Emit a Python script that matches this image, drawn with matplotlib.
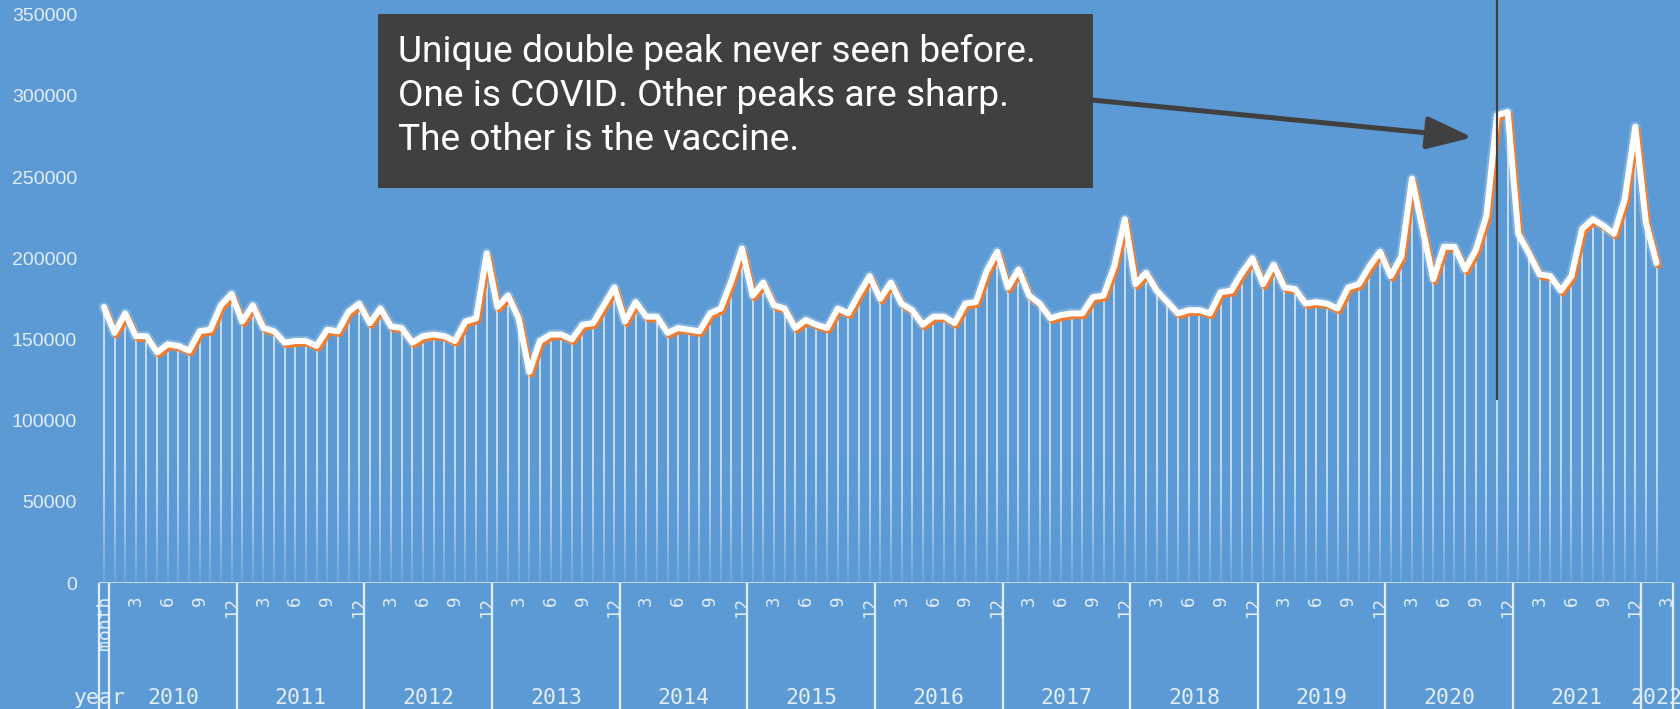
import numpy as np
import matplotlib
matplotlib.use("Agg")
import matplotlib.pyplot as plt
import matplotlib.patheffects as pe
import matplotlib.transforms as mtransforms
from matplotlib.patches import Rectangle

# monthly values, first one sits in the "month" header slot, then Jan 2010 .. Feb 2022
values = [
    170000, 154000, 166000, 152000, 152000, 142000, 147000, 146000, 143000, 155000, 156000, 171000,
    178000, 161000, 171000, 157000, 155000, 148000, 149000, 149000, 146000, 156000, 155000, 167000,
    172000, 160000, 169000, 158000, 157000, 148000, 152000, 153000, 152000, 149000, 161000, 163000,
    203000, 170000, 177000, 163000, 130000, 149000, 153000, 153000, 150000, 159000, 160000, 171000,
    182000, 161000, 173000, 164000, 164000, 154000, 157000, 156000, 155000, 166000, 169000, 186000,
    206000, 177000, 185000, 171000, 169000, 157000, 162000, 159000, 157000, 169000, 166000, 178000,
    189000, 175000, 185000, 172000, 168000, 159000, 164000, 164000, 160000, 172000, 173000, 192000,
    204000, 182000, 193000, 177000, 172000, 163000, 165000, 166000, 166000, 176000, 177000, 195000,
    224000, 184000, 191000, 180000, 173000, 166000, 168000, 168000, 166000, 179000, 180000, 191000,
    200000, 184000, 196000, 182000, 181000, 172000, 173000, 172000, 169000, 182000, 184000, 195000,
    204000, 189000, 201000, 249000, 218000, 187000, 207000, 207000, 193000, 205000, 226000, 288000,
    290000, 215000, 203000, 190000, 189000, 180000, 189000, 218000, 224000, 220000, 215000, 236000,
    281000, 222000, 197000,
]
years = ["2010", "2011", "2012", "2013", "2014", "2015", "2016", "2017", "2018", "2019", "2020", "2021", "2022"]
month_ticks = ["3", "6", "9", "12"]
y_ticks = [0, 50000, 100000, 150000, 200000, 250000, 300000, 350000]
n_slots = 148  # header slot + 12 years + 3 months of 2022
marker_slot = 131
note = "Unique double peak never seen before.\nOne is COVID. Other peaks are sharp.\nThe other is the vaccine."

bg = "#5B9AD5"
pale = "#e4eef7"
dark = "#404040"

W, H = 1680, 709
fig = plt.figure(figsize=(W / 100, H / 100), dpi=100)
fig.patch.set_facecolor(bg)

x0_px, x1_px, y0_px = 98.6, 1672.5, 583
ax = fig.add_axes([x0_px / W, (H - y0_px) / H, (x1_px - x0_px) / W, y0_px / H])
ax.set_facecolor(bg)
ax.set_xlim(-0.5, n_slots - 0.5)
ax.set_ylim(0, 359000)

x = np.arange(len(values))

# drop lines from each point to the axis
ax.vlines(x, 0, values, color=pale, lw=1.1, zorder=2)

# fade the drop lines out toward the bottom
fade = np.zeros((100, 2, 4))
fade[..., :3] = matplotlib.colors.to_rgb(bg)
fade[..., 3] = np.linspace(0.0, 0.9, 100)[:, None] ** 1.5
ax.imshow(fade, extent=(-0.5, n_slots - 0.5, 0, 80000), origin="upper",
          aspect="auto", zorder=3, interpolation="bilinear")

# main line: soft glow, orange shadow, white stroke
ax.plot(x, values, color="white", lw=4.3, solid_joinstyle="round", solid_capstyle="round", zorder=5,
        path_effects=[pe.Stroke(linewidth=7.5, foreground="white", alpha=0.22),
                      pe.SimpleLineShadow(offset=(1.6, -2.0), shadow_color="#ED7D31", alpha=1.0, rho=1),
                      pe.Normal()])

# vertical marker line
ax.vlines(marker_slot, 112800, 359000, color=dark, lw=1.6, zorder=6)

for s in ax.spines.values():
    s.set_visible(False)
ax.axhline(0, color=pale, lw=1.8, zorder=4)

ax.set_yticks(y_ticks)
ax.set_yticklabels([str(v) for v in y_ticks], family="Liberation Sans", fontsize=14, color=pale)
ax.tick_params(axis="y", length=0, pad=15.5)
ax.set_xticks([])

# multi level category axis
trans = mtransforms.blended_transform_factory(ax.transData, ax.transAxes)
mono = "DejaVu Sans Mono"
dividers = [-0.5, 0.5] + [12.5 + 12 * k for k in range(12)] + [n_slots - 0.5]
ax.vlines(dividers, -0.3, 0, transform=trans, color=pale, lw=1.6, clip_on=False)

month_y = -(596 - y0_px) / y0_px
year_y = -(698 - y0_px) / y0_px
ax.text(0.1, month_y, "month", transform=trans, rotation=90, ha="center", va="top",
        family=mono, fontsize=13, color=pale)
ax.text(-0.4, year_y, "year", transform=trans, ha="center", va="center",
        family=mono, fontsize=15.5, color=pale)
for k, yr in enumerate(years):
    start = 1 + 12 * k
    n_months = 12 if yr != "2022" else 3
    for lab in month_ticks:
        m = int(lab)
        if m <= n_months:
            ax.text(start + m - 1, month_y, lab, transform=trans, rotation=90,
                    ha="center", va="top", family=mono, fontsize=12.5, color=pale)
    ax.text(start + (n_months - 1) / 2, year_y, yr, transform=trans, ha="center", va="center",
            family=mono, fontsize=15.5, color=pale)

# note box and arrow
fig.patches.append(Rectangle((378 / W, 1 - 188 / H), (1093 - 378) / W, (188 - 14) / H,
                             transform=fig.transFigure, facecolor=dark, edgecolor="none", zorder=10))
fig.text(398 / W, 1 - 96 / H, note, family="Roboto", fontsize=26.7, color="white",
         ha="left", va="center", linespacing=1.3, zorder=11)
ax.annotate("", xy=(128.7, 274400), xytext=(92.6, 297600),
            arrowprops=dict(arrowstyle="-|>,head_length=2.8,head_width=1.0", color=dark, lw=3.6,
                            shrinkA=0, shrinkB=0), zorder=9, annotation_clip=False)

fig.savefig("out.png", dpi=100, facecolor=bg)
